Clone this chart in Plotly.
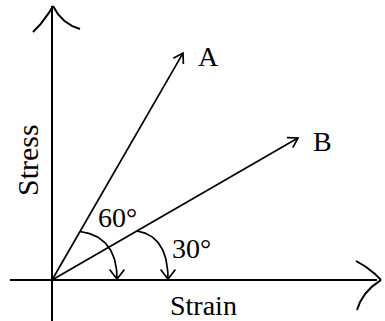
import math
import plotly.graph_objects as go

# lines drawn from the origin of the stress-strain diagram
line_names = ["A", "B"]
line_angles = [60, 30]          # degrees from the strain axis
line_lengths = [262, 284]

# curved angle markers: start distance along the line, end point on strain axis
arc_start_r = [56, 98]
arc_end_x = [65, 116]
angle_labels = ["60°", "30°"]

FONT = "Liberation Serif"
INK = "black"


def v_head(tip, direction, size=11, spread=32):
    # open "V" arrow head at tip, direction in degrees
    pts_x, pts_y = [], []
    for s in (spread, -spread):
        a = math.radians(direction + 180 + s)
        pts_x.append(tip[0] + size * math.cos(a))
        pts_y.append(tip[1] + size * math.sin(a))
    return [pts_x[0], tip[0], pts_x[1]], [pts_y[0], tip[1], pts_y[1]]


def bezier(p0, c, p1, n=40):
    xs, ys = [], []
    for i in range(n + 1):
        t = i / n
        xs.append((1 - t) ** 2 * p0[0] + 2 * (1 - t) * t * c[0] + t ** 2 * p1[0])
        ys.append((1 - t) ** 2 * p0[1] + 2 * (1 - t) * t * c[1] + t ** 2 * p1[1])
    return xs, ys


fig = go.Figure()


def add_line(xs, ys, width=1.7):
    fig.add_trace(go.Scatter(x=xs, y=ys, mode="lines",
                             line=dict(color=INK, width=width),
                             hoverinfo="skip", showlegend=False))


# axes
add_line([-42, 325], [0, 0], 2)
add_line([0, 0], [-42, 274], 2)

# hooked axis arrow heads
hx, hy = bezier((-19, 248), (-8, 258), (1, 274))
add_line(hx, hy, 2)
hx, hy = bezier((1, 274), (10, 256), (28, 251))
add_line(hx, hy, 2)
hx, hy = bezier((304, 19), (318, 12), (329, 0))
add_line(hx, hy, 2)
hx, hy = bezier((329, 0), (310, -12), (305, -30))
add_line(hx, hy, 2)

# lines A and B with their labels
for name, ang, length in zip(line_names, line_angles, line_lengths):
    a = math.radians(ang)
    tip = (length * math.cos(a), length * math.sin(a))
    add_line([0, tip[0]], [0, tip[1]])
    hx, hy = v_head(tip, ang)
    add_line(hx, hy)
    fig.add_annotation(x=tip[0] + 25, y=tip[1] - 3, text=name, showarrow=False,
                       font=dict(family=FONT, size=28, color=INK))

# angle markers
for ang, r, ex in zip(line_angles, arc_start_r, arc_end_x):
    a = math.radians(ang)
    p0 = (r * math.cos(a), r * math.sin(a))
    p1 = (ex, 1)
    hx, hy = bezier(p0, (ex, p0[1] - 5), p1)
    add_line(hx, hy)
    hx, hy = v_head(p1, -90, size=12, spread=38)
    add_line(hx, hy)

fig.add_annotation(x=65, y=63, text=angle_labels[0], showarrow=False,
                   font=dict(family=FONT, size=28, color=INK))
fig.add_annotation(x=139, y=32, text=angle_labels[1], showarrow=False,
                   font=dict(family=FONT, size=28, color=INK))

# axis titles
fig.add_annotation(x=-25, y=120, text="Stress", textangle=-90, showarrow=False,
                   font=dict(family=FONT, size=30, color=INK))
fig.add_annotation(x=151, y=-25, text="Strain", showarrow=False,
                   font=dict(family=FONT, size=28, color=INK))

fig.update_xaxes(range=[-52, 333], visible=False, fixedrange=True)
fig.update_yaxes(range=[-41, 280], visible=False, fixedrange=True)
fig.update_layout(
    width=385,
    height=321,
    margin=dict(l=0, r=0, t=0, b=0),
    paper_bgcolor="white",
    plot_bgcolor="white",
)

# page has a default body margin; drop it so the figure fills the window
fig.write_html("out.html", config={"displayModeBar": False},
               post_script="document.body.style.margin='0';")
